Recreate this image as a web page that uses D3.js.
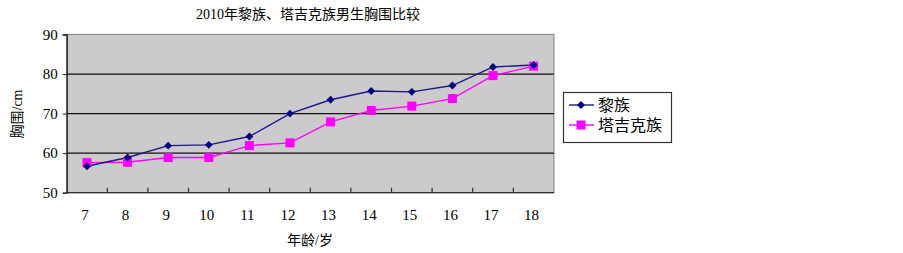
<!DOCTYPE html>
<html>
<head>
<meta charset="utf-8">
<script src="https://cdn.jsdelivr.net/npm/d3@7"></script>
<style>
  body { margin: 0; background: #fff; }
  text { font-family: "Liberation Serif", "Noto Sans CJK SC", serif; fill: #000; }
</style>
</head>
<body>
<div id="chart"></div>
<script>
const ages = ["7", "8", "9", "10", "11", "12", "13", "14", "15", "16", "17", "18"];
const liValues = [56.7, 58.9, 61.9, 62.1, 64.2, 70.0, 73.5, 75.7, 75.5, 77.1, 81.8, 82.3];
const tajikValues = [57.6, 57.7, 58.9, 58.9, 61.9, 62.6, 67.9, 70.8, 71.9, 73.8, 79.6, 82.0];
const seriesNames = ["黎族", "塔吉克族"];
const yTicks = [50, 60, 70, 80, 90];

const width = 903, height = 253;
const margin = {left: 66.7, right: 903 - 553.9, top: 34.5, bottom: 253 - 192.7};

const svg = d3.select("#chart").append("svg")
  .attr("width", width)
  .attr("height", height);

const x = d3.scaleBand().domain(ages).range([margin.left, width - margin.right]);
const y = d3.scaleLinear().domain([50, 90]).range([height - margin.bottom, margin.top]);

// plot background
svg.append("rect")
  .attr("x", x.range()[0]).attr("y", y(90))
  .attr("width", x.range()[1] - x.range()[0])
  .attr("height", y(50) - y(90))
  .attr("fill", "#cccacd")
  .attr("stroke", "#8c8c8c")
  .attr("stroke-width", 1.2);

// gridlines
svg.append("g").selectAll("line")
  .data(yTicks.filter(d => d > 50 && d < 90))
  .join("line")
  .attr("x1", x.range()[0]).attr("x2", x.range()[1])
  .attr("y1", d => y(d)).attr("y2", d => y(d))
  .attr("stroke", "#111")
  .attr("stroke-width", 1.3);

// y axis
const yAxis = svg.append("g")
  .attr("transform", `translate(${x.range()[0]},0)`)
  .call(d3.axisLeft(y).tickValues(yTicks).tickSize(4).tickPadding(5));
yAxis.select(".domain").attr("stroke", "#222").attr("stroke-width", 1.3);
yAxis.selectAll(".tick line").attr("stroke", "#222");
yAxis.selectAll("text").style("font-size", "15px").attr("dy", "0.32em");

// x axis, ticks between categories pointing inward
const xAxis = svg.append("g")
  .attr("transform", `translate(0,${y(50)})`);
xAxis.append("line")
  .attr("x1", x.range()[0]).attr("x2", x.range()[1])
  .attr("y1", 0).attr("y2", 0)
  .attr("stroke", "#333").attr("stroke-width", 1.3);
xAxis.selectAll("line.tk")
  .data(ages.slice(1))
  .join("line")
  .attr("class", "tk")
  .attr("x1", d => x(d)).attr("x2", d => x(d))
  .attr("y1", 0).attr("y2", -5)
  .attr("stroke", "#333").attr("stroke-width", 1.2);
xAxis.selectAll("text")
  .data(ages)
  .join("text")
  .attr("x", d => x(d) + x.bandwidth() / 2 - 2)
  .attr("y", 27)
  .attr("text-anchor", "middle")
  .style("font-size", "15px")
  .text(d => d);

// lines
const cx = (d, i) => x(ages[i]) + x.bandwidth() / 2;
const line = d3.line().x(cx).y(d => y(d));

svg.append("path").datum(tajikValues)
  .attr("d", line).attr("fill", "none")
  .attr("stroke", "#ff00ff").attr("stroke-width", 1.4);
svg.append("path").datum(liValues)
  .attr("d", line).attr("fill", "none")
  .attr("stroke", "#1a1a8a").attr("stroke-width", 1.4);

svg.append("g").selectAll("rect")
  .data(tajikValues)
  .join("rect")
  .attr("x", (d, i) => cx(d, i) - 4.5)
  .attr("y", d => y(d) - 4.5)
  .attr("width", 9).attr("height", 9)
  .attr("fill", "#ff00ff");

const diamond = d3.symbol().type(d3.symbolDiamond2).size(40);
svg.append("g").selectAll("path")
  .data(liValues)
  .join("path")
  .attr("transform", (d, i) => `translate(${cx(d, i)},${y(d)})`)
  .attr("d", diamond)
  .attr("fill", "#000080");

// title and axis titles
svg.append("text")
  .attr("x", 308).attr("y", 19)
  .attr("text-anchor", "middle")
  .style("font-size", "14px")
  .text("2010年黎族、塔吉克族男生胸围比较");

svg.append("text")
  .attr("x", 310).attr("y", 245)
  .attr("text-anchor", "middle")
  .style("font-size", "14px")
  .text("年龄/岁");

svg.append("text")
  .attr("transform", "translate(22,114) rotate(-90)")
  .attr("text-anchor", "middle")
  .style("font-size", "14px")
  .text("胸围/cm");

// legend
const legend = svg.append("g");
legend.append("rect")
  .attr("x", 563.5).attr("y", 92.5)
  .attr("width", 108).attr("height", 50)
  .attr("fill", "#fff")
  .attr("stroke", "#333").attr("stroke-width", 1.2);

const colors = ["#1a1a8a", "#ff00ff"];
seriesNames.forEach((name, i) => {
  const ly = 105 + i * 20;
  legend.append("line")
    .attr("x1", 569).attr("x2", 594)
    .attr("y1", ly).attr("y2", ly)
    .attr("stroke", colors[i]).attr("stroke-width", 1.4);
  if (i === 0) {
    legend.append("path")
      .attr("transform", `translate(581,${ly})`)
      .attr("d", diamond).attr("fill", "#000080");
  } else {
    legend.append("rect")
      .attr("x", 576.5).attr("y", ly - 4.5)
      .attr("width", 9).attr("height", 9)
      .attr("fill", "#ff00ff");
  }
  legend.append("text")
    .attr("x", 598).attr("y", ly + 5.5)
    .style("font-size", "16px")
    .text(name);
});
</script>
</body>
</html>
